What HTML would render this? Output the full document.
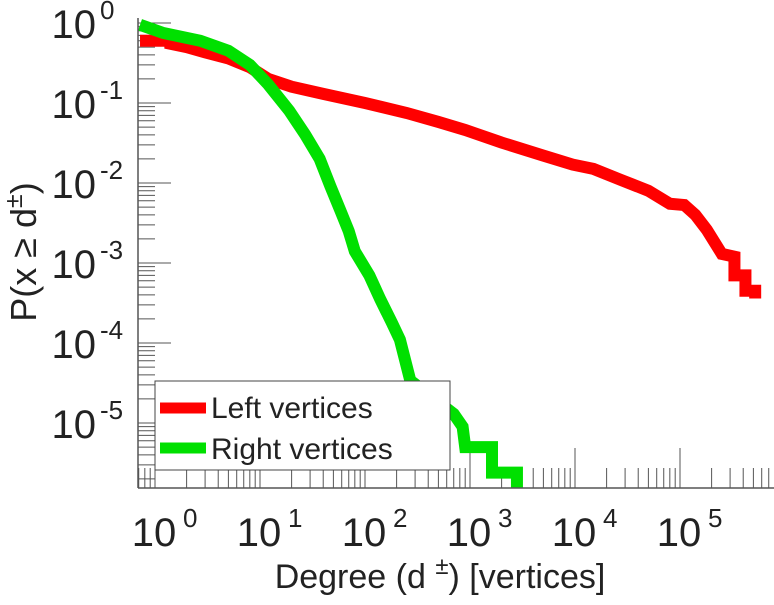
<!DOCTYPE html>
<html><head><meta charset="utf-8"><style>
html,body{margin:0;padding:0;background:#fff;}
svg text{font-family:"Liberation Sans",sans-serif;fill:#222;}
</style></head><body>
<svg id="chart" width="774" height="600" xmlns="http://www.w3.org/2000/svg">
<g id="ticks"></g>
<g id="series"></g>
<g id="labels"></g>
<line x1="138" y1="18" x2="138" y2="488" stroke="#555" stroke-width="1.5"/>
<line x1="138" y1="488" x2="774" y2="488" stroke="#555" stroke-width="1.5"/>
<text x="440" y="588" font-size="34" text-anchor="middle">Degree (d  <tspan dy="-14" font-size="24">±</tspan><tspan dy="14">) [vertices]</tspan></text>
<text transform="translate(36,252) rotate(-90)" font-size="36" text-anchor="middle">P(x ≥ d<tspan dy="-14" font-size="25">±</tspan><tspan dy="14">)</tspan></text>
<g>
<rect x="155" y="381" width="295" height="89" fill="#fff" stroke="#444" stroke-width="1"/>
<line x1="160" y1="408" x2="206" y2="408" stroke="#ff0000" stroke-width="11"/>
<text x="211" y="418" font-size="30">Left vertices</text>
<line x1="160" y1="448" x2="206" y2="448" stroke="#00e000" stroke-width="11"/>
<text x="211" y="459" font-size="30">Right vertices</text>
</g>
</svg>
<script>
const xDecades = [0,1,2,3,4,5];
const yDecades = [0,-1,-2,-3,-4,-5];
const leftDeg = [0.72,1.4,1.4,2.0,3.0,5.0,8.0,12,20,40,100,250,500,900,2000,5000,9500,15000,27000,50000,80000,110000,140000,180000,250000,330000,330000,420000,420000,520000,520000];
const leftP = [0.6,0.6,0.55,0.5,0.43,0.36,0.28,0.2,0.16,0.13,0.1,0.075,0.058,0.046,0.032,0.022,0.017,0.015,0.011,0.008,0.0055,0.0053,0.004,0.0026,0.0013,0.0012,0.0007,0.0007,0.00045,0.00045,0.00036];
const rightDeg = [0.72,1.2,2.7,5,8,12,19,27,37,47,58,70,80,110,140,180,215,270,700,850,900,1620,1620,2800];
const rightP = [0.95,0.75,0.6,0.45,0.3,0.17,0.08,0.04,0.02,0.009,0.0046,0.0025,0.0014,0.0007,0.00035,0.00018,0.00011,0.000034,0.000013,0.000009,0.000005,0.000005,0.0000024,0.0000024];
const NS="http://www.w3.org/2000/svg";
const X0=155, XD=105, Y0=23, YD=80, LEFT=138, BOTTOM=488;
function sx(v){return X0+Math.log10(v)*XD;}
function sy(v){return Math.min(BOTTOM, Y0-Math.log10(v)*YD);}
function mk(tag,attrs,parent){const e=document.createElementNS(NS,tag);for(const k in attrs)e.setAttribute(k,attrs[k]);parent.appendChild(e);return e;}
const ticks=document.getElementById('ticks'), labels=document.getElementById('labels'), series=document.getElementById('series');
for(let d=-6; d<=0; d++){
  for(let m=1;m<10;m++){
    const y=sy(m*Math.pow(10,d));
    if(y<18||y>=488) continue;
    const t=mk('line',{x1:LEFT,x2:LEFT+(m===1?33:17),y1:y,y2:y,stroke:'#555','stroke-width':1},ticks);
    
    
  }
}
for(let d=-1; d<=5; d++){
  for(let m=1;m<10;m++){
    const x=sx(m*Math.pow(10,d));
    if(x<LEFT||x>774) continue;
    const t=mk('line',{x1:x,x2:x,y1:BOTTOM,y2:BOTTOM-(m===1?40:20),stroke:'#555','stroke-width':1},ticks);
    
    
  }
}
yDecades.forEach(d=>{
  const t=mk('text',{x:96,y:sy(Math.pow(10,d))+15,'font-size':40,'text-anchor':'end'},labels);
  
  
  t.textContent='10';
  const s=mk('text',{x:100,y:sy(Math.pow(10,d))-4,'font-size':26},labels);
  
  
  s.textContent=String(d);
});
xDecades.forEach(d=>{
  const cx=sx(Math.pow(10,d));
  const t=mk('text',{x:cx-1,y:546,'font-size':40,'text-anchor':'middle'},labels);
  
  
  t.textContent='10';
  const s=mk('text',{x:cx+28,y:527,'font-size':26},labels);
  
  
  s.textContent=String(d);
});
function linePath(xs,ys){
  let p='M'+sx(xs[0])+','+sy(ys[0]);
  for(let i=1;i<xs.length;i++){p+=' L'+sx(xs[i])+','+sy(ys[i]);}
  return p;
}
const gp=mk('path',{d:linePath(rightDeg,rightP)+' V'+BOTTOM,fill:'none',stroke:'#00e000','stroke-width':12,'stroke-linejoin':'miter'},series);


const rp=mk('path',{d:linePath(leftDeg,leftP),fill:'none',stroke:'#ff0000','stroke-width':12,'stroke-linejoin':'miter'},series);


series.appendChild(gp);
</script>
</body></html>
